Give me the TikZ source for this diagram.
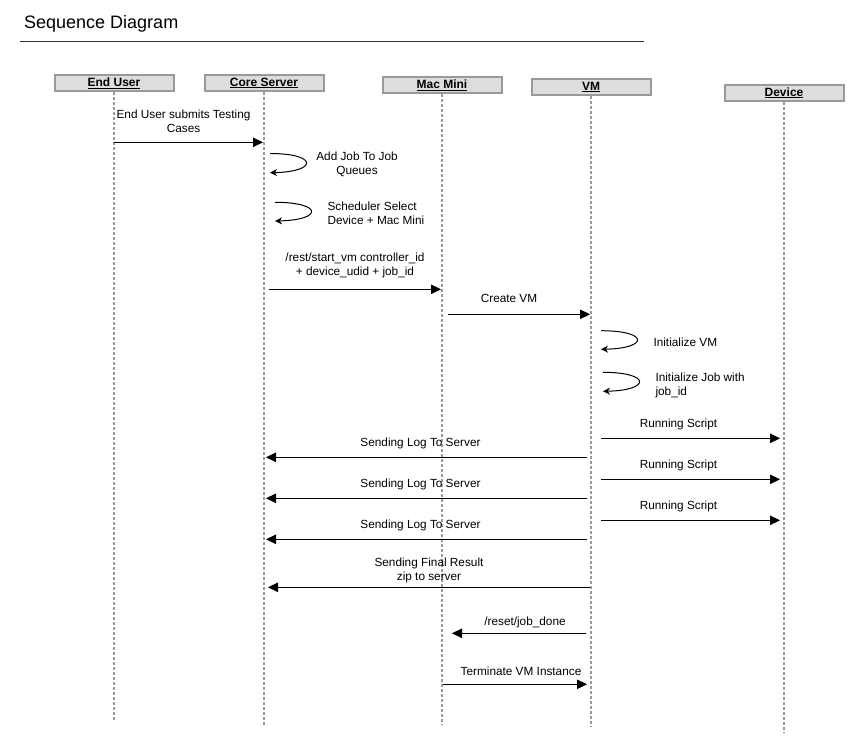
\documentclass[tikz,border=0pt]{standalone}
\usepackage{fontspec}
\setmainfont{Liberation Sans}
\usepackage{tikz}
\usetikzlibrary{arrows.meta}
\definecolor{boxgray}{HTML}{DDDDDD}
\definecolor{linegray}{HTML}{999999}
\definecolor{rulegray}{HTML}{333333}

\begin{document}
\begin{tikzpicture}[x=1pt, y=-1pt, >={Triangle[length=10pt,width=9.5pt]},
  actor/.style={draw=linegray, fill=boxgray, line width=2pt, minimum width=119pt,
    minimum height=16pt, inner sep=0pt, font=\fontsize{12}{14}\selectfont\bfseries},
  life/.style={draw=linegray, line width=1.6pt, dash pattern=on 3pt off 2pt},
  msg/.style={->, line width=1pt},
  selfmsg/.style={-{Stealth[length=7pt,width=7pt]}, line width=1pt},
  lbl/.style={font=\fontsize{11.8}{14}\selectfont, inner sep=0pt, text depth=3pt}]

  \useasboundingbox (0,0) rectangle (864,753);

  % Title
  \node[anchor=base west, inner sep=0pt, font=\fontsize{18}{20}\selectfont] (title) at (24,28.3) {Sequence Diagram};
  \draw[rulegray, line width=1pt] (20,41.3) -- (644,41.3);

  % Lifelines
  \node[actor] (user) at (114,83) {\underline{End User}};
  \node[actor] (core) at (264,83) {\underline{Core Server}};
  \node[actor] (mac) at (442,85) {\underline{Mac Mini}};
  \node[actor] (vm) at (591,87) {\underline{VM}};
  \node[actor] (device) at (784,92.8) {\underline{Device}};

  \coordinate (userend) at (114,722);
  \coordinate (coreend) at (264,725);
  \coordinate (macend) at (442,725);
  \coordinate (vmend) at (591,727);
  \coordinate (deviceend) at (784,732);

  \draw[life] (user.south) -- (userend);
  \draw[life] (core.south) -- (coreend);
  \draw[life] (mac.south) -- (macend);
  \draw[life] (vm.south) -- (vmend);
  \draw[life] (device.south) -- (deviceend);

  % Submitting the job
  \draw[msg] (user |- 0,142.3) -- node[lbl, above=6pt, xshift=-5pt, align=center] {End User submits Testing\\Cases} ([xshift=-1pt]core |- 0,142.3);
  \draw[selfmsg] ([xshift=6pt]core |- 0,153.5) .. controls +(48,0) and +(48,-1) .. ([xshift=6pt]core |- 0,172.7)
    node[lbl, align=center, anchor=center] at (357,164.5) {Add Job To Job\\Queues};
  \draw[selfmsg] ([xshift=11pt]core |- 0,202.3) .. controls +(48,0) and +(48,-1) .. ([xshift=11pt]core |- 0,221)
    node[lbl, align=left, anchor=west] at (327,215) {Scheduler Select\\Device + Mac Mini};
  \draw[msg] ([xshift=5pt]core |- 0,289.3) -- node[lbl, above=10pt, align=center] {/rest/start\_vm controller\_id\\+ device\_udid + job\_id} ([xshift=-1pt]mac |- 0,289.3);
  \draw[msg] ([xshift=6pt]mac |- 0,314.3) -- node[lbl, above=8pt, xshift=-10pt] {Create VM} ([xshift=-1pt]vm |- 0,314.3);

  % VM start-up
  \draw[selfmsg] ([xshift=10pt]vm |- 0,330.7) .. controls +(48,0) and +(48,-1) .. ([xshift=10pt]vm |- 0,349.3)
    node[lbl, anchor=west] at (653,344) {Initialize VM};
  \draw[selfmsg] ([xshift=12pt]vm |- 0,372.3) .. controls +(48,0) and +(48,-1) .. ([xshift=12pt]vm |- 0,391.3)
    node[lbl, align=left, anchor=west] at (655,386) {Initialize Job with\\job\_id};

  % Running scripts and logs
  \foreach \y in {438.3, 479.3, 520.3} {
    \draw[msg] ([xshift=10pt]vm |- 0,\y) -- node[lbl, above=7pt, xshift=-12pt] {Running Script} ([xshift=-4pt]device |- 0,\y);
  }
  \foreach \y in {457.3, 498.3, 539.3} {
    \draw[msg] ([xshift=-4pt]vm |- 0,\y) -- node[lbl, above=7pt, xshift=-6pt] {Sending Log To Server} ([xshift=2pt]core |- 0,\y);
  }
  \draw[msg] ([xshift=-1pt]vm |- 0,587.3) -- node[lbl, above=3pt, align=center] {Sending Final Result\\zip to server} ([xshift=4pt]core |- 0,587.3);

  % Finishing the job
  \draw[msg] ([xshift=-5pt]vm |- 0,633.3) -- node[lbl, above=4pt, xshift=6pt] {/reset/job\_done} ([xshift=10pt]mac |- 0,633.3);
  \draw[msg] ([xshift=1pt]mac |- 0,684.3) -- node[lbl, above=5pt, xshift=6pt] {Terminate VM Instance} ([xshift=-4pt]vm |- 0,684.3);

\end{tikzpicture}
\end{document}
